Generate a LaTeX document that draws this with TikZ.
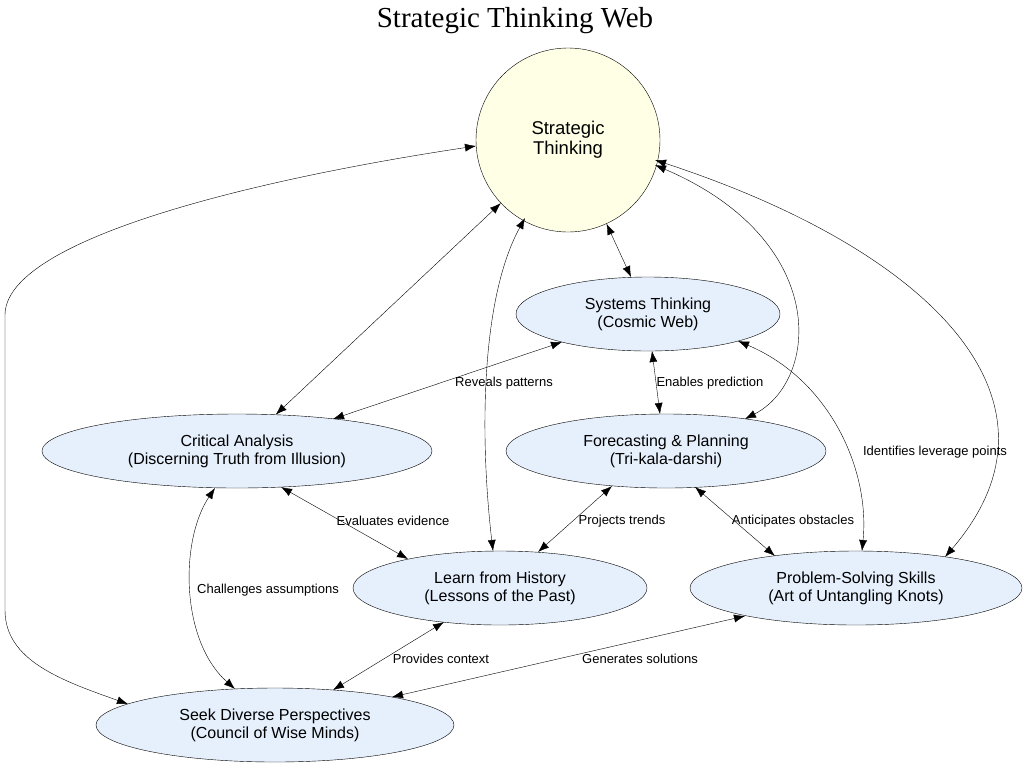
\documentclass[tikz,border=0pt]{standalone}
\usepackage{fontspec}
\setmainfont{Liberation Sans}
\newfontfamily\titlefont{Liberation Serif}
\usetikzlibrary{shapes.geometric, arrows.meta, positioning}
\definecolor{coreyellow}{HTML}{FFFFE6}
\definecolor{skillblue}{HTML}{E6F0FD}
\tikzset{
  skill/.style={ellipse, draw, fill=skillblue, inner sep=0pt, align=center, font=\fontsize{16}{18}\selectfont},
  link/.style={{Latex[length=11pt,width=8pt]}-{Latex[length=11pt,width=8pt]}},
  lbl/.style={font=\fontsize{13}{15}\selectfont}
}
% point on a node, offset from its centre (y points down)
\newcommand{\at}[3]{([shift={(#2,#3)}]#1.center)}
\begin{document}
\begin{tikzpicture}[x=1pt, y=-1pt]
  \useasboundingbox (0,0) rectangle (1030,772);
  \node[font=\titlefont\fontsize{29}{31}\selectfont] (title) at (515,21) {Strategic Thinking Web};
  \node[circle, draw, fill=coreyellow, minimum size=184pt, inner sep=0pt, align=center,
        font=\fontsize{18.5}{20}\selectfont] (core) at (568,140) {Strategic\\Thinking};
  \node[skill, minimum width=264pt, minimum height=74pt] (sys) at (648,314) {Systems Thinking\\(Cosmic Web)};
  \node[skill, minimum width=390pt, minimum height=74pt] (crit) at (237,451) {Critical Analysis\\(Discerning Truth from Illusion)};
  \node[skill, minimum width=320pt, minimum height=74pt] (fore) at (666,451) {Forecasting \& Planning\\(Tri-kala-darshi)};
  \node[skill, minimum width=294pt, minimum height=74pt] (hist) at (500,588) {Learn from History\\(Lessons of the Past)};
  \node[skill, minimum width=332pt, minimum height=74pt] (prob) at (856,588) {Problem-Solving Skills\\(Art of Untangling Knots)};
  \node[skill, minimum width=358pt, minimum height=74pt] (seek) at (275,725) {Seek Diverse Perspectives\\(Council of Wise Minds)};

  \draw[link] (core) -- (sys);
  \draw[link] (core) -- (crit);
  \draw[link] \at{core}{-43}{78} .. controls (480,300) and (480,440) .. \at{hist}{-7}{-37};
  \draw[link] \at{core}{87}{25} .. controls (830,240) and (820,380) .. \at{fore}{79}{-32};
  \draw[link] \at{core}{87}{20} .. controls (930,250) and (1080,400) .. \at{prob}{89}{-31};
  \draw[link] \at{core}{-92}{6} .. controls (250,180) and (5,240) .. (5,315)
    -- (5,610) .. controls (5,660) and (60,680) .. \at{seek}{-147}{-21};
  \draw[link] \at{sys}{-86}{28} -- \at{crit}{96}{-32};
  \draw[link] \at{sys}{4}{37} -- \at{fore}{-6}{-37};
  \draw[link] \at{sys}{90}{27} .. controls (830,380) and (870,470) .. \at{prob}{6}{-37};
  \draw[link] \at{crit}{44}{36} -- \at{hist}{-92}{-29};
  \draw[link] \at{crit}{-22}{37} .. controls (180,540) and (180,640) .. \at{seek}{-40}{-36};
  \draw[link] \at{fore}{-54}{35} -- \at{hist}{38}{-36};
  \draw[link] \at{fore}{29}{36} -- \at{prob}{-81}{-32};
  \draw[link] \at{hist}{-56}{34} -- \at{seek}{58}{-35};
  \draw[link] \at{prob}{-111}{28} -- \at{seek}{117}{-28};

  \node[lbl] (l1) at (504,383) {Reveals patterns};
  \node[lbl] (l2) at (710,383) {Enables prediction};
  \node[lbl] (l3) at (935,452) {Identifies leverage points};
  \node[lbl] (l4) at (393,521) {Evaluates evidence};
  \node[lbl] (l5) at (268,590) {Challenges assumptions};
  \node[lbl] (l6) at (622,521) {Projects trends};
  \node[lbl] (l7) at (793,521) {Anticipates obstacles};
  \node[lbl] (l8) at (441,659) {Provides context};
  \node[lbl] (l9) at (640,659) {Generates solutions};
\end{tikzpicture}
\end{document}
